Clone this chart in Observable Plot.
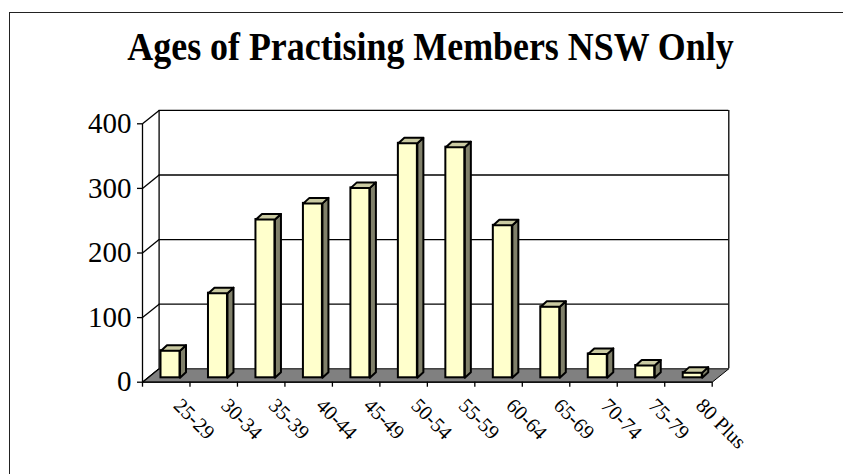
<!DOCTYPE html>
<html>
<head>
<meta charset="utf-8">
<script src="https://cdn.jsdelivr.net/npm/d3@7"></script>
<script src="https://cdn.jsdelivr.net/npm/@observablehq/plot@0.6"></script>
<style>
  html, body { margin: 0; padding: 0; background: #fff; overflow: hidden; }
  #wrap { position: relative; width: 843px; height: 474px; overflow: hidden; background: #fff; }
  #frame { position: absolute; left: 8.5px; top: 11.5px; width: 834.5px; height: 462.5px;
           border-left: 1.6px solid #222; border-top: 1.6px solid #222; box-sizing: border-box; }
  #title { position: absolute; left: 0; top: 26.5px; width: 861px; text-align: center;
           font: bold 40px "Liberation Serif", "Times New Roman", serif; line-height: 40px;
           transform: scaleX(0.897); transform-origin: 430.5px 50%; white-space: nowrap; color: #000; }
  #chart { position: absolute; left: 0; top: 0; width: 843px; height: 474px; overflow: hidden; }
</style>
</head>
<body>
<div id="wrap">
  <div id="frame"></div>
  <div id="chart"></div>
  <div id="title"></div>
</div>
<script>
// ---- data ----
const titleText = "Ages of Practising Members NSW Only";
const categories = ["25-29", "30-34", "35-39", "40-44", "45-49", "50-54", "55-59", "60-64", "65-69", "70-74", "75-79", "80 Plus"];
const members = [42, 131, 245, 270, 294, 363, 357, 236, 110, 37, 19, 8];
const yTicks = [0, 100, 200, 300, 400];

// ---- layout (pixels) ----
const W = 843, H = 474;
const X0 = 142, X1 = 711.7, Y0 = 381.7, YTOP = 123.3;
const pxX = (X1 - X0) / categories.length;
const pxY = (Y0 - YTOP) / 400;
const WALL = [16.6, 13.4];           // depth of the chart box in px
const wdx = WALL[0] / pxX, wdy = WALL[1] / pxY;
const BAR_DEPTH = [6, 5.5];
const bdx = BAR_DEPTH[0] / pxX, bdy = BAR_DEPTH[1] / pxY;
const BAR_L = 18.5 / pxX, BAR_W = 19 / pxX;
const BAR_DY = -4.4;

const rows = categories.map((c, i) => ({c, i, v: members[i]}));
const n = categories.length;

const floor = [[0, 0], [n, 0], [n + wdx, wdy], [wdx, wdy]].map(([x, y]) => ({x, y}));
const sides = rows.flatMap(r => {
  const x = r.i + BAR_L + BAR_W;
  return [[x, 0], [x, r.v], [x + bdx, r.v + bdy], [x + bdx, bdy]].map(([x, y]) => ({id: r.i, x, y}));
});
const tops = rows.flatMap(r => {
  const a = r.i + BAR_L, b = a + BAR_W;
  return [[a, r.v], [b, r.v], [b + bdx, r.v + bdy], [a + bdx, r.v + bdy]].map(([x, y]) => ({id: r.i, x, y}));
});

const FONT = "Liberation Serif";

const chart = Plot.plot({
  width: W,
  height: H,
  marginLeft: X0,
  marginRight: W - X1,
  marginTop: YTOP,
  marginBottom: H - Y0,
  style: {background: "transparent", fontFamily: FONT, overflow: "visible", color: "#000"},
  x: {type: "linear", domain: [0, n]},
  y: {type: "linear", domain: [0, 400]},
  marks: [
    Plot.line(floor, {x: "x", y: "y", curve: "linear-closed", fill: "#808080", stroke: "#000", strokeWidth: 1}),
    Plot.ruleY(yTicks.slice(1), {x1: 0, x2: n, dx: WALL[0], dy: -WALL[1], stroke: "#000", strokeWidth: 1.3}),
    Plot.ruleX([0, n], {y1: 0, y2: 400, dx: WALL[0], dy: -WALL[1], stroke: "#000", strokeWidth: 1.3}),
    Plot.link(yTicks, {x1: 0, y1: d => d, x2: wdx, y2: d => d + wdy, stroke: "#000", strokeWidth: 1.3}),
    Plot.ruleX([0], {y1: 0, y2: 400, stroke: "#000", strokeWidth: 1.3}),
    Plot.ruleY([0], {x1: 0, x2: n, stroke: "#000", strokeWidth: 1.3}),
    Plot.axisY(yTicks, {anchor: "left", tickSize: 5, tickPadding: 6, fontSize: 29, fontFamily: FONT, label: null, strokeWidth: 1.3}),
    Plot.axisX(d3.range(n + 1), {anchor: "bottom", tickSize: 5, tickFormat: () => "", label: null, strokeWidth: 1.3}),
    Plot.text(rows, {x: d => d.i + 0.5, y: 0, text: "c", rotate: 45, textAnchor: "start", dx: 11, dy: 20, fontSize: 20.5, fontFamily: FONT, fill: "#000"}),
    Plot.rectY(rows, {x1: d => d.i + BAR_L, x2: d => d.i + BAR_L + BAR_W, y1: 0, y2: "v", dy: BAR_DY, fill: "#ffffcc", stroke: "#000", strokeWidth: 2}),
    Plot.line(sides, {x: "x", y: "y", z: "id", curve: "linear-closed", dy: BAR_DY, fill: "#80806a", stroke: "#000", strokeWidth: 2}),
    Plot.line(tops, {x: "x", y: "y", z: "id", curve: "linear-closed", dy: BAR_DY, fill: "#cacaa2", stroke: "#000", strokeWidth: 2})
  ]
});
document.getElementById("chart").appendChild(chart);
document.getElementById("title").textContent = titleText;
</script>
</body>
</html>
